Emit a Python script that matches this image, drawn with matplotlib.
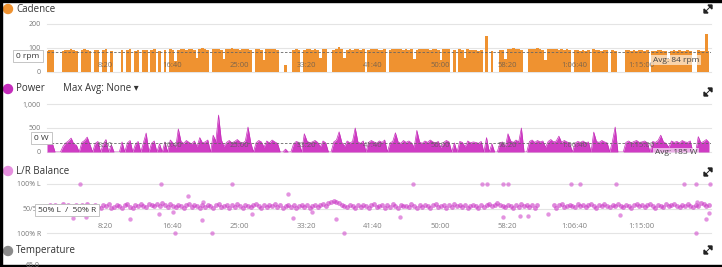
import numpy as np
import matplotlib.pyplot as plt
from matplotlib.patches import Ellipse, Rectangle, Polygon
from matplotlib.lines import Line2D

plt.rcParams['font.family'] = ['Open Sans', 'DejaVu Sans']

# cadence (rpm) and power (W), one sample every 20 s starting at 1:07
cadence = [
    88, 92, 90, 0, 0, 0, 86, 93, 91, 94, 90, 89, 0, 92, 95, 91, 88, 0, 90, 93,
    0, 91, 94, 0, 89, 0, 0, 0, 92, 0, 90, 95, 0, 88, 92, 0, 93, 90, 0, 91,
    94, 0, 89, 0, 92, 0, 95, 93, 45, 90, 96, 94, 92, 97, 95, 93, 60, 94, 98, 96,
    93, 0, 95, 97, 94, 92, 55, 95, 97, 99, 96, 94, 93, 95, 97, 94, 92, 0, 94, 96,
    93, 50, 95, 97, 94, 96, 93, 0, 0, 30, 0, 0, 92, 95, 93, 0, 90, 94, 96, 93,
    95, 92, 58, 94, 96, 0, 0, 93, 95, 104, 94, 60, 92, 95, 93, 96, 94, 92, 95, 0,
    93, 95, 94, 96, 93, 91, 94, 0, 92, 95, 97, 94, 96, 93, 95, 92, 94, 55, 93, 96,
    94, 97, 95, 93, 96, 94, 92, 50, 95, 97, 94, 0, 92, 0, 95, 93, 60, 94, 92, 90,
    93, 89, 91, 0, 150, 0, 88, 0, 0, 90, 93, 55, 95, 97, 99, 96, 94, 92, 0, 0,
    94, 97, 95, 99, 96, 93, 50, 95, 97, 94, 96, 93, 95, 92, 94, 90, 0, 91, 93, 89,
    92, 88, 90, 0, 95, 93, 91, 89, 92, 90, 0, 91, 88, 0, 0, 0, 90, 92, 88, 91,
    89, 92, 90, 88, 91, 0, 89, 87, 90, 92, 88, 86, 55, 89, 91, 88, 90, 87, 89, 92,
    88, 0, 0, 90, 87, 89, 160, 88,
]
power = [
    150, 210, 180, 0, 0, 0, 120, 190, 230, 290, 170, 140, 0, 200, 240, 310, 160, 0, 180, 220,
    0, 170, 260, 0, 150, 0, 0, 0, 210, 0, 190, 240, 0, 160, 220, 0, 200, 395, 0, 180,
    230, 0, 170, 0, 210, 0, 250, 190, 90, 480, 220, 180, 240, 200, 170, 230, 110, 300, 190, 210,
    250, 0, 350, 220, 770, 260, 120, 200, 240, 190, 220, 260, 210, 180, 230, 520, 200, 0, 190, 240,
    210, 100, 230, 190, 250, 210, 180, 0, 0, 60, 0, 0, 170, 220, 200, 0, 380, 230, 190, 210,
    240, 200, 110, 230, 190, 0, 0, 210, 250, 420, 200, 120, 230, 190, 220, 500, 210, 180, 230, 0,
    200, 240, 210, 180, 230, 200, 250, 0, 190, 220, 400, 210, 180, 240, 200, 230, 190, 100, 450, 210,
    180, 230, 200, 250, 210, 190, 220, 90, 200, 240, 210, 0, 190, 0, 220, 200, 110, 230, 190, 210,
    200, 180, 220, 0, 300, 0, 170, 0, 0, 190, 210, 100, 380, 230, 200, 250, 210, 500, 0, 0,
    220, 250, 200, 240, 210, 230, 100, 220, 260, 210, 230, 330, 200, 240, 210, 190, 0, 180, 220, 200,
    230, 190, 210, 0, 415, 220, 200, 240, 210, 190, 0, 230, 520, 0, 0, 0, 200, 230, 190, 220,
    240, 200, 210, 230, 190, 0, 220, 200, 240, 350, 210, 180, 100, 230, 200, 220, 190, 240, 210, 200,
    230, 0, 0, 320, 190, 220, 260, 200,
]
# left share in %, same samples (nan = no reading)
lr_left = [
    54, 57, 52, 58, 55, 51, 59, 54, 57, 52, 55, 58, 51, 57, 54, 59, 52, 55, 58, 54,
    51, 57, 55, 59, 52, 54, 58, 55, 51, 57, 59, 54, 52, 58, 55, 60, 56, 53, 59, 57,
    55, 60, 56, 61, 57, 54, 59, 56, 53, 58, 55, 52, 57, 59, 53, 58, 55, 51, 57, 54,
    58, 55, 52, 57, 59, 53, 55, 58, 52, 57, 54, 59, 55, 52, 58, 55, 53, 57, 59, 55,
    52, 57, 54, 58, 55, 59, 53, 57, 52, 55, 58, 54, 57, 51, 55, 58, 53, 57, 52, 55,
    58, 54, 57, 59, 55, 61, 63, 66, 64, 61, 58, 56, 53, 58, 55, 52, 57, 54, 58, 55,
    52, 57, 59, 53, 55, 58, 52, 57, 54, 59, 55, 52, 58, 55, 56, 53, 59, 55, 52, 57,
    54, 58, 55, 52, 57, 59, 53, 55, 58, 52, 57, 54, 59, 55, 58, 53, 57, 52, 55, 58,
    55, 52, 58, 54, 57, 59, 55, 58, 61, 58, 56, 53, 58, 55, 52, 57, 54, 59, 55, 58,
    54, 57, 52, 58, np.nan, np.nan, np.nan, np.nan, np.nan, 58, 52, 57, 59, 53, 55, 58, 56, 54, 59, 55,
    58, 54, 57, 59, 55, 52, 58, 55, 60, 56, 53, 58, 55, 59, 56, 53, 58, 55, 52, 57,
    59, 55, 58, 53, 57, 59, 55, 52, 58, 56, 53, 59, 55, 58, 60, 56, 53, 58, 55, 59,
    56, 53, 58, 55, 61, 59, 55, 58,
]
# odd balance readings (time s, % left)
lr_odd_t = [313, 918, 1448, 2799, 3313, 3351, 3470, 3507, 3978, 4045, 4313, 4821, 4910, 5015,
            1022, 1299, 2284, 4910,
            1119, 687, 261, 358, 903, 1007, 1224, 1231, 1866, 1903, 2224, 2045, 2701, 1597,
            3470, 3597, 3657, 3806, 4343, 4918, 4985, 5007]
lr_odd_v = [100, 100, 100, 100, 100, 100, 100, 100, 100, 100, 100, 100, 100, 100,
            0, 0, 0, 0,
            76, 28, 30, 32, 38, 42, 26, 64, 79, 30, 28, 42, 32, 38,
            32, 34, 34, 38, 36, 64, 28, 40]

avg_cadence = 84
avg_power = 185
x_ticks = [500, 1000, 1500, 2000, 2500, 3000, 3500, 4000, 4500]
x_labels = ['8:20', '16:40', '25:00', '33:20', '41:40', '50:00', '58:20', '1:06:40', '1:15:00']

times = 67 + 20 * np.arange(len(cadence))

W, H = 722, 267
fig = plt.figure(figsize=(W / 100, H / 100), dpi=100)
fig.patch.set_facecolor('white')


def px_axes(top, bottom):
    return fig.add_axes([47 / W, 1 - bottom / H, 664 / W, (bottom - top) / H])


def style(ax, yt, ylabels, ylim):
    ax.set_xlim(67, 5022)
    ax.set_ylim(*ylim)
    for s in ax.spines.values():
        s.set_visible(False)
    ax.set_yticks(yt)
    ax.set_yticklabels(ylabels)
    ax.set_xticks(x_ticks)
    ax.set_xticklabels(x_labels)
    ax.tick_params(axis='y', length=0, pad=4.3, labelsize=5, labelcolor='#777777')
    ax.tick_params(axis='x', length=0, pad=-7, labelsize=5.5, labelcolor='#555555')
    for lab in ax.get_xticklabels():
        lab.set_alpha(0.75)
    # grid drawn by hand so it stays under the data while labels stay on top
    for v in yt:
        ax.axhline(v, color='#e4e4e4', lw=0.8, zorder=0.2, clip_on=False)
    ax.patch.set_alpha(0)


ax1 = px_axes(24, 72)
ax1.fill_between(times, cadence, step='mid', color='#ef9230', lw=0, zorder=1)
ax1.axhline(avg_cadence, color='#666666', lw=0.6, ls=(0, (3, 2)), zorder=2)
style(ax1, [0, 100, 200], ['0', '100', '200'], (0, 200))

ax2 = px_axes(104, 152)
ax2.fill_between(times, power, color='#cf3cc4', lw=0, zorder=1)
ax2.plot(times, power, color='#c52fba', lw=0.5, zorder=1)
ax2.axhline(avg_power, color='#666666', lw=0.6, ls=(0, (3, 2)), zorder=2)
style(ax2, [0, 500, 1000], ['0', '500', '1,000'], (0, 1000))

ax3 = px_axes(184, 233)
ax3.scatter(times, lr_left, s=12, color='#c935c4', alpha=0.6, lw=0, zorder=1, clip_on=False)
ax3.scatter(lr_odd_t, lr_odd_v, s=10, color='#d45ad0', alpha=0.65, lw=0, zorder=1, clip_on=False)
style(ax3, [0, 50, 100], ['100% R', '50/50', '100% L'], (0, 100))


def fx(x):
    return x / W


def fy(y):
    return 1 - y / H


titles = [('Cadence', 9, '#ef9230'), ('Power', 89, '#c42cbb'),
          ('L/R Balance', 171, '#e58fde'), ('Temperature', 251, '#8a8a8a')]
for name, y, c in titles:
    fig.add_artist(Ellipse((fx(8), fy(y)), 9 / W, 9 / H, color=c, transform=fig.transFigure))
    fig.text(fx(16), fy(y), name, fontsize=7, color='#333333', va='center', ha='left')

fig.text(fx(63), fy(89), 'Max Avg: None \u25be', fontsize=7, color='#333333', va='center', ha='left')

# expand icons: two corner heads joined by a short diagonal
for y in [9, 92, 172, 250]:
    tr = [(fx(712), fy(y - 4)), (fx(708), fy(y - 4)), (fx(712), fy(y))]
    bl = [(fx(704), fy(y + 4)), (fx(708), fy(y + 4)), (fx(704), fy(y))]
    for pts in (tr, bl):
        fig.add_artist(Polygon(pts, closed=True, color='#222222', transform=fig.transFigure))
    fig.add_artist(Line2D([fx(705.5), fx(710.5)], [fy(y + 2.5), fy(y - 2.5)],
                          color='#222222', lw=0.7, transform=fig.transFigure))

box = dict(boxstyle='square,pad=0.35', fc='white', ec='#bbbbbb', lw=0.6)
fig.text(fx(28), fy(56), '0 rpm', fontsize=6, color='#333333', ha='center', va='center', bbox=box)
fig.text(fx(41.5), fy(138), '0 W', fontsize=6, color='#333333', ha='center', va='center', bbox=box)
fig.text(fx(67), fy(210), '50% L  /  50% R', fontsize=6, color='#333333', ha='center', va='center', bbox=box)

avg_box = dict(boxstyle='square,pad=0.2', fc='white', ec='none', alpha=0.6)
fig.text(fx(676), fy(60), 'Avg: 84 rpm', fontsize=6, color='#444444', ha='center', va='center', bbox=avg_box)
fig.text(fx(676), fy(153), 'Avg: 185 W', fontsize=6, color='#444444', ha='center', va='center', bbox=avg_box)

fig.text(fx(33), fy(262), '65.0', fontsize=5, color='#777777', ha='center', va='top')

# screenshot frame
fig.add_artist(Rectangle((0, fy(2)), 1, 2 / H, color='black', transform=fig.transFigure))
fig.add_artist(Rectangle((0, 0), 1, 2.5 / H, color='black', transform=fig.transFigure))
fig.add_artist(Rectangle((0, 0), 1.5 / W, 1, color='black', transform=fig.transFigure))

fig.savefig('out.png', dpi=100)
